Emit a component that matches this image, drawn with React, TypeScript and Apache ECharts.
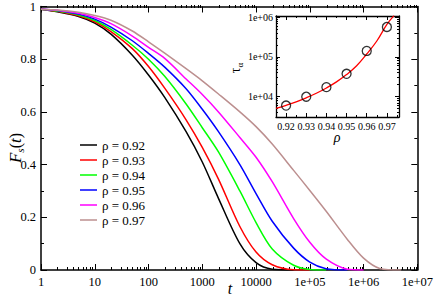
import React, { useEffect, useRef } from 'react';
import * as echarts from 'echarts';

// ---------- data ----------
const T = [1, 2, 5, 10, 20, 50, 100, 200, 500, 1000, 2000, 5000, 1e4, 2e4, 5e4, 1e5, 2e5, 5e5, 1e6, 2e6, 5e6, 1e7];

const F092 = [0.99, 0.98, 0.962, 0.937, 0.895, 0.815, 0.74, 0.655, 0.525, 0.41, 0.272, 0.1, 0.028, 0.003, 0];
const F093 = [0.99, 0.982, 0.965, 0.942, 0.905, 0.84, 0.772, 0.69, 0.57, 0.465, 0.345, 0.165, 0.068, 0.02, 0.001, 0];
const F094 = [0.99, 0.983, 0.968, 0.947, 0.913, 0.853, 0.8, 0.735, 0.63, 0.54, 0.448, 0.3, 0.18, 0.08, 0.018, 0.002, 0];
const F095 = [0.99, 0.985, 0.971, 0.952, 0.922, 0.87, 0.822, 0.77, 0.688, 0.61, 0.525, 0.4, 0.29, 0.185, 0.083, 0.03, 0.005, 0];
const F096 = [0.99, 0.986, 0.974, 0.958, 0.935, 0.888, 0.845, 0.803, 0.725, 0.666, 0.6, 0.503, 0.428, 0.335, 0.195, 0.105, 0.042, 0.003, 0];
const F097 = [0.99, 0.987, 0.978, 0.966, 0.948, 0.907, 0.866, 0.823, 0.764, 0.718, 0.668, 0.6, 0.544, 0.478, 0.378, 0.302, 0.224, 0.116, 0.045, 0.006, 0];

const SERIES_NAMES = ['ρ = 0.92', 'ρ = 0.93', 'ρ = 0.94', 'ρ = 0.95', 'ρ = 0.96', 'ρ = 0.97'];
const SERIES_VALUES = [F092, F093, F094, F095, F096, F097];
const COLORS = ['#000000', '#ff0000', '#00ff00', '#0000ff', '#ff00ff', '#bc8f8f'];

const X_MAJOR = [1, 10, 100, 1000, 1e4, 1e5, 1e6, 1e7];
const X_MINOR_MULT = [2, 3, 4, 5, 6, 7, 8, 9];

// inset
const INSET_RHO = [0.92, 0.93, 0.94, 0.95, 0.96, 0.97];
const INSET_TAU = [6000, 10000, 17400, 37600, 141000, 562000];
const FIT_RHO = [0.915, 0.92, 0.925, 0.93, 0.935, 0.94, 0.945, 0.95, 0.955, 0.96, 0.965, 0.97, 0.9735];
const FIT_TAU = [5080, 6100, 7460, 9400, 12200, 16600, 23600, 36000, 59600, 118000, 250000, 650000, 1.08e6];
const INSET_X_MAJOR = [0.92, 0.93, 0.94, 0.95, 0.96, 0.97];
const INSET_X_MINOR = [0.925, 0.935, 0.945, 0.955, 0.965, 0.975];
const INSET_Y_MAJOR = [1e4, 1e5, 1e6];

const SERIF = '"Liberation Serif", "Times New Roman", serif';

const X_MINOR: number[] = [];
X_MAJOR.slice(0, -1).forEach((d) => X_MINOR_MULT.forEach((m) => X_MINOR.push(m * d)));
const INSET_Y_MINOR: number[] = [];
[1000, 1e4, 1e5].forEach((d) => X_MINOR_MULT.forEach((m) => INSET_Y_MINOR.push(m * d)));

const fmtX = (v: number) => {
  const e = Math.round(Math.log10(v));
  return e >= 5 ? '1e+0' + e : String(Math.round(v));
};
const fmtLogY = (v: number) => '1e+0' + Math.round(Math.log10(v));

const black = { color: '#000', width: 1 };

function hidden(extra: any) {
  return {
    axisLine: { show: false },
    axisTick: { show: false },
    axisLabel: { show: false },
    splitLine: { show: false },
    ...extra,
  };
}

function buildOption() {
  const mainSeries = SERIES_VALUES.map((vals, i) => ({
    name: SERIES_NAMES[i],
    type: 'line',
    xAxisIndex: 0,
    yAxisIndex: 0,
    data: vals.map((f, j) => [T[j], f]),
    symbol: 'none',
    smooth: 0.3,
    lineStyle: { color: COLORS[i], width: 1.5 },
    itemStyle: { color: COLORS[i] },
    z: 3 + i,
  }));

  const mainX = (pos: string, labels: boolean) => ({
    type: 'log', logBase: 10, min: 1, max: 1e7, gridIndex: 0, position: pos,
    axisLine: { show: true, onZero: false, lineStyle: { color: '#000', width: 1.5 } },
    axisTick: { show: true, inside: true, length: 6, customValues: X_MAJOR, lineStyle: black },
    axisLabel: labels
      ? { show: true, customValues: X_MAJOR, formatter: fmtX, fontFamily: SERIF, fontSize: 12.5, color: '#000', margin: 5 }
      : { show: false },
    splitLine: { show: false },
  });
  const mainXMinor = (pos: string) => ({
    type: 'log', logBase: 10, min: 1, max: 1e7, gridIndex: 1, position: pos,
    axisLine: { show: false, onZero: false },
    axisTick: { show: true, inside: true, length: 3, customValues: X_MINOR, lineStyle: black },
    axisLabel: { show: false },
    splitLine: { show: false },
  });
  const mainY = (pos: string, labels: boolean) => ({
    type: 'value', min: 0, max: 1, interval: 0.2, gridIndex: 0, position: pos,
    axisLine: { show: true, onZero: false, lineStyle: { color: '#000', width: 1.5 } },
    axisTick: { show: true, inside: true, length: 6, lineStyle: black },
    minorTick: { show: true, splitNumber: 2, length: 3, lineStyle: black },
    axisLabel: labels
      ? {
          show: true, fontFamily: SERIF, fontSize: 12.5, color: '#000', margin: 5,
          formatter: (v: number) => (v === 0 ? '0' : v === 1 ? '1' : v.toFixed(1)),
        }
      : { show: false },
    splitLine: { show: false },
  });

  const insetX = (pos: string, labels: boolean) => ({
    type: 'value', min: 0.915, max: 0.976, gridIndex: 2, position: pos,
    axisLine: { show: true, onZero: false, lineStyle: { color: '#000', width: 1.3 } },
    axisTick: { show: true, inside: true, length: 4, customValues: INSET_X_MAJOR, lineStyle: black },
    axisLabel: labels
      ? { show: true, customValues: INSET_X_MAJOR, formatter: (v: number) => v.toFixed(2), fontFamily: SERIF, fontSize: 10, color: '#000', margin: 4 }
      : { show: false },
    splitLine: { show: false },
  });
  const insetXMinor = (pos: string) => ({
    type: 'value', min: 0.915, max: 0.976, gridIndex: 3, position: pos,
    axisLine: { show: false, onZero: false },
    axisTick: { show: true, inside: true, length: 2, customValues: INSET_X_MINOR, lineStyle: black },
    axisLabel: { show: false },
    splitLine: { show: false },
  });
  const insetY = (pos: string, labels: boolean) => ({
    type: 'log', logBase: 10, min: 3100, max: 1.06e6, gridIndex: 2, position: pos,
    axisLine: { show: true, onZero: false, lineStyle: { color: '#000', width: 1.3 } },
    axisTick: { show: true, inside: true, length: 4, customValues: INSET_Y_MAJOR, lineStyle: black },
    axisLabel: labels
      ? { show: true, customValues: INSET_Y_MAJOR, formatter: fmtLogY, fontFamily: SERIF, fontSize: 10, color: '#000', margin: 3 }
      : { show: false },
    splitLine: { show: false },
  });
  const insetYMinor = (pos: string) => ({
    type: 'log', logBase: 10, min: 3100, max: 1.06e6, gridIndex: 3, position: pos,
    axisLine: { show: false, onZero: false },
    axisTick: { show: true, inside: true, length: 2, customValues: INSET_Y_MINOR, lineStyle: black },
    axisLabel: { show: false },
    splitLine: { show: false },
  });

  return {
    animation: false,
    backgroundColor: '#fff',
    textStyle: { fontFamily: SERIF },
    grid: [
      { left: 41, top: 5, width: 378, height: 265, show: false },
      { left: 41, top: 5, width: 378, height: 265, show: false },
      { left: 276, top: 16, width: 123, height: 101, show: true, backgroundColor: '#fff', borderWidth: 0, z: 10 },
      { left: 276, top: 16, width: 123, height: 101, show: false, z: 10 },
    ],
    xAxis: [
      mainX('bottom', true),
      mainX('top', false),
      mainXMinor('bottom'),
      mainXMinor('top'),
      { ...insetX('bottom', true), z: 11 },
      { ...insetX('top', false), z: 11 },
      { ...insetXMinor('bottom'), z: 11 },
      { ...insetXMinor('top'), z: 11 },
    ],
    yAxis: [
      mainY('left', true),
      mainY('right', false),
      hidden({ type: 'value', min: 0, max: 1, gridIndex: 1 }),
      { ...insetY('left', true), z: 11 },
      { ...insetY('right', false), z: 11 },
      { ...insetYMinor('left'), z: 11 },
      { ...insetYMinor('right'), z: 11 },
    ],
    legend: {
      left: 80,
      top: 137.5,
      orient: 'vertical',
      padding: 0,
      icon: 'rect',
      itemWidth: 17,
      itemHeight: 1.5,
      itemGap: 0,
      data: SERIES_NAMES,
      textStyle: { fontFamily: SERIF, fontSize: 13, lineHeight: 15, color: '#000' },
    },
    series: [
      ...mainSeries,
      {
        name: 'fit',
        type: 'line',
        xAxisIndex: 4,
        yAxisIndex: 3,
        data: FIT_RHO.map((r, i) => [r, FIT_TAU[i]]),
        symbol: 'none',
        smooth: 0.4,
        clip: true,
        lineStyle: { color: '#ff0000', width: 1.3 },
        z: 12,
      },
      {
        name: 'tau',
        type: 'scatter',
        xAxisIndex: 4,
        yAxisIndex: 3,
        data: INSET_RHO.map((r, i) => [r, INSET_TAU[i]]),
        symbol: 'circle',
        symbolSize: 9,
        itemStyle: { color: 'rgba(0,0,0,0)', borderColor: '#000', borderWidth: 1.3 },
        z: 13,
      },
    ],
    graphic: [
      {
        type: 'text', x: 15, y: 148, rotation: Math.PI / 2, z: 20,
        style: {
          text: '{i|F}{s|s}{n|(}{i|t}{n|)}',
          align: 'center', verticalAlign: 'middle',
          rich: {
            i: { fontFamily: SERIF, fontStyle: 'italic', fontSize: 17, lineHeight: 20, fill: '#000' },
            n: { fontFamily: SERIF, fontSize: 16, lineHeight: 20, fill: '#000' },
            s: { fontFamily: SERIF, fontStyle: 'italic', fontSize: 11, lineHeight: 12, verticalAlign: 'bottom', fill: '#000' },
          },
        },
      },
      {
        type: 'text', x: 230, y: 288, z: 20,
        style: { text: 't', font: 'italic 16px ' + SERIF, fill: '#000', align: 'center', verticalAlign: 'middle' },
      },
      {
        type: 'text', x: 337, y: 137, z: 20,
        style: { text: 'ρ', font: 'italic 14px ' + SERIF, fill: '#000', align: 'center', verticalAlign: 'middle' },
      },
      {
        type: 'text', x: 235, y: 68, rotation: Math.PI / 2, z: 20,
        style: {
          text: '{t|τ}{a|α}',
          align: 'center', verticalAlign: 'middle',
          rich: {
            t: { fontFamily: SERIF, fontSize: 14, lineHeight: 18, fill: '#000' },
            a: { fontFamily: SERIF, fontSize: 9, lineHeight: 10, verticalAlign: 'bottom', fill: '#000' },
          },
        },
      },
    ],
  };
}

export default function App() {
  const ref = useRef<HTMLDivElement>(null);
  useEffect(() => {
    if (!ref.current) return;
    const chart = echarts.init(ref.current, null, { renderer: 'svg' });
    chart.setOption(buildOption() as any);
    return () => chart.dispose();
  }, []);
  return (
    <div
      ref={ref}
      style={{ position: 'fixed', left: 0, top: 0, width: 436, height: 297, background: '#fff' }}
    />
  );
}
